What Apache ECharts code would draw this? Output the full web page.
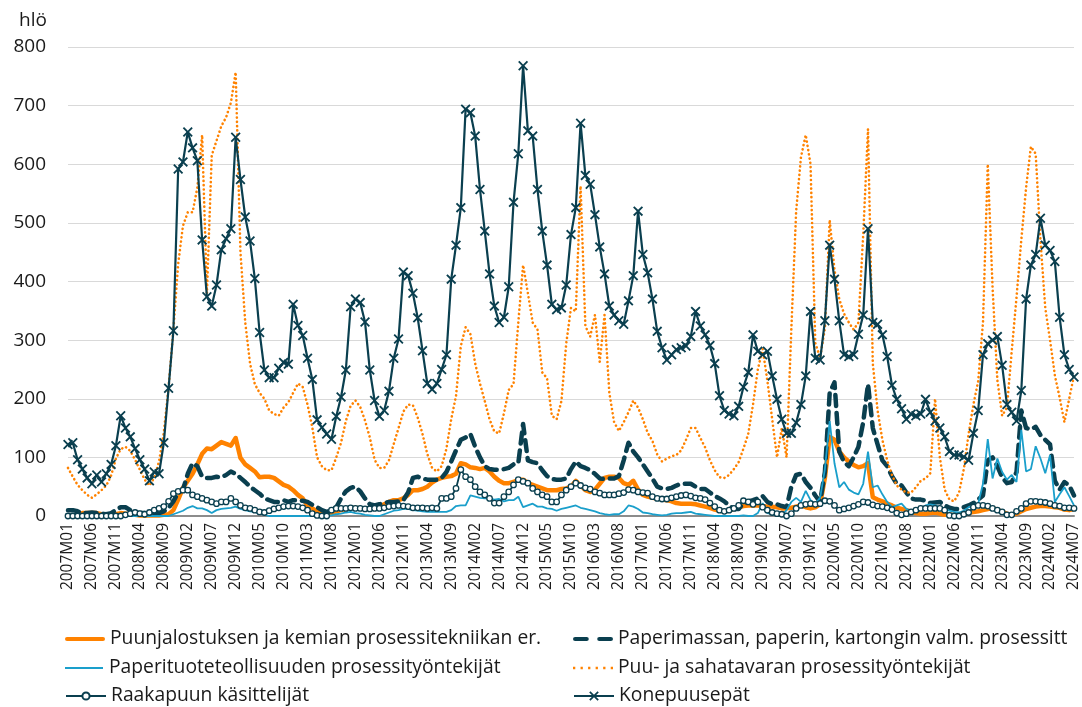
<!DOCTYPE html>
<html><head><meta charset="utf-8">
<script src="https://cdn.jsdelivr.net/npm/echarts@6/dist/echarts.min.js"></script>
<style>html,body{margin:0;padding:0;background:#fff}#c{width:1082px;height:707px}</style>
</head><body><div id="c"></div>
<script>
// Categories: monthly 2007M01 .. 2024M07
const years = [2007,2008,2009,2010,2011,2012,2013,2014,2015,2016,2017,2018,2019,2020,2021,2022,2023,2024];
const categories = [];
years.forEach(function(y){ for (let m=1;m<=12;m++){ if (y===2024 && m>7) break; categories.push(y+'M'+(m<10?'0':'')+m); } });

const yTicks = [0,100,200,300,400,500,600,700,800];

const names = [
  'Puunjalostuksen ja kemian prosessitekniikan er.',
  'Paperimassan, paperin, kartongin valm. prosessitt',
  'Paperituoteteollisuuden prosessityöntekijät',
  'Puu- ja sahatavaran prosessityöntekijät',
  'Raakapuun käsittelijät',
  'Konepuusepät'
];

const puunjalostus = [0,0,3,5,5,5,5,3,2,2,
3,5,4,3,2,1,1,1,1,1,
2,3,10,28,48,60,72,88,106,115,
114,120,126,123,120,133,99,88,82,76,
66,67,67,65,59,53,50,44,36,30,
18,13,8,5,4,5,8,10,12,13,
14,13,13,13,14,16,20,24,27,27,
30,36,44,44,46,50,57,62,65,67,
68,72,90,88,83,82,80,82,76,67,
60,56,56,58,62,62,56,53,50,47,
44,44,44,46,47,50,60,52,44,41,
45,55,65,67,67,65,56,53,60,45,
36,33,31,30,28,27,25,22,21,21,
21,20,18,16,14,11,9,8,9,12,
15,17,18,18,18,17,16,16,15,13,
13,14,16,18,15,13,15,20,65,135,
130,110,100,93,87,83,85,90,32,28,
25,21,18,14,12,10,7,5,4,4,
5,6,4,2,2,2,3,4,5,7,
8,10,12,13,11,7,4,2,4,8,
12,14,16,17,17,16,15,14,11,10,
12];

const paperimassa = [10,10,8,5,5,6,5,4,3,5,
10,15,15,10,6,5,5,4,4,5,
8,14,25,40,45,72,90,85,67,65,
65,67,66,70,76,72,65,58,50,44,
38,30,27,24,24,27,24,27,27,26,
24,19,15,10,7,10,15,30,42,48,
50,42,30,20,18,20,22,24,24,25,
27,40,65,67,64,62,62,62,65,75,
93,112,130,134,140,118,100,85,80,79,
79,80,82,88,90,157,95,92,90,78,
68,63,62,62,64,80,93,85,82,78,
72,64,63,64,64,68,95,125,110,100,
88,76,64,50,47,46,48,52,55,55,
55,50,46,46,40,34,30,25,18,12,
12,22,25,27,30,34,24,20,20,17,
15,50,70,72,58,48,35,24,75,210,
228,110,92,85,100,118,160,225,150,122,
95,85,68,55,52,40,30,28,28,26,
22,23,24,18,14,12,12,15,18,22,
28,35,95,100,85,66,56,58,75,180,
150,148,152,138,130,122,60,45,58,52,
35];

const paperituote = [0,0,0,0,0,0,0,0,0,0,
0,0,0,0,0,0,0,0,0,0,
0,0,3,6,9,14,17,13,13,10,
5,10,12,13,14,16,12,10,8,7,
4,2,0,0,0,0,0,0,0,0,
0,0,2,1,1,1,3,4,6,7,
5,4,2,1,0,0,3,6,9,10,
12,12,10,9,8,7,7,7,7,7,
10,17,18,18,35,33,31,30,30,28,
29,25,27,27,33,15,18,21,16,16,
13,12,9,12,14,16,18,14,12,10,
8,5,3,2,3,3,8,18,16,12,
6,5,3,2,1,2,4,5,5,6,
7,4,3,2,1,0,0,0,0,0,
0,1,0,0,5,22,5,3,2,1,
10,24,31,24,43,27,21,31,80,162,
90,49,58,45,40,37,55,110,49,52,
37,24,15,18,21,12,9,9,12,18,
20,18,15,12,9,7,6,9,15,18,
21,55,131,64,98,75,62,70,58,147,
76,80,119,98,73,104,24,37,49,34,
18];

const sahatavara = [82,67,53,44,36,31,37,44,52,69,
98,114,118,111,96,79,62,52,65,93,
142,220,318,430,495,518,518,560,650,380,
615,640,665,680,705,757,450,330,260,225,
210,200,180,174,171,185,194,210,226,220,
190,151,100,85,78,78,100,125,162,188,
197,186,163,134,96,82,82,95,123,150,
178,190,189,168,140,106,82,76,85,115,
165,205,290,322,310,260,226,196,165,144,
141,175,215,225,330,428,380,330,318,245,
235,171,165,196,294,355,349,563,324,306,
343,263,343,210,160,145,160,177,197,185,
165,142,128,105,93,98,102,104,112,130,
150,150,133,117,95,78,66,65,70,80,
92,115,140,190,250,285,230,165,100,150,
100,320,520,612,650,600,295,270,320,505,
420,370,345,330,318,330,480,660,260,180,
130,95,70,52,45,40,40,49,60,64,
73,200,100,45,28,25,40,80,140,190,
230,330,600,390,232,171,185,281,373,471,
560,630,618,470,355,300,240,202,160,200,
240];

const raakapuu = [0,0,0,0,0,0,0,0,0,0,
0,0,2,4,6,4,3,6,10,13,
16,25,38,42,44,44,36,33,30,27,
24,21,24,24,30,24,18,14,13,10,
7,6,9,12,14,16,17,17,16,14,
10,4,1,0,0,10,13,13,13,14,
13,13,12,12,13,13,14,16,17,18,
17,16,14,14,14,13,14,13,30,30,
33,47,79,67,62,50,41,36,30,22,
22,33,41,53,62,59,56,47,41,36,
33,24,24,36,44,50,56,52,48,46,
41,39,36,36,36,38,40,45,44,41,
40,39,33,30,29,29,31,33,35,36,
34,31,30,28,22,16,10,8,10,13,
18,26,24,20,24,15,10,6,4,3,
0,4,13,18,20,21,20,21,26,25,
18,10,12,14,17,20,24,23,19,17,
16,14,11,5,2,4,7,10,13,13,
13,13,13,10,1,0,0,3,6,15,
18,18,17,13,10,7,2,2,8,13,
21,25,25,24,23,21,18,17,14,14,
13];

const konepuusepat = [122,125,96,80,65,55,70,58,72,88,
120,171,150,135,115,96,80,60,75,72,
125,218,316,592,604,655,628,606,471,374,
358,394,454,473,490,646,574,510,469,405,
313,249,236,236,252,262,259,361,325,308,
269,233,164,151,140,131,170,203,249,357,
370,364,331,249,197,170,180,213,269,302,
416,410,380,338,282,226,216,226,250,275,
404,462,526,694,688,648,557,486,413,358,
330,339,391,535,618,768,657,648,557,486,
428,361,352,355,394,480,526,670,581,566,
514,459,413,358,343,333,327,367,410,520,
446,415,370,315,287,266,275,284,287,290,
306,349,324,309,291,260,205,180,174,171,
187,220,245,309,281,275,281,239,199,165,
141,141,159,190,239,349,269,266,333,462,
404,333,275,272,275,310,343,490,330,327,
309,272,223,199,183,165,174,171,174,199,
177,162,150,135,110,104,104,101,95,141,
180,275,294,300,306,257,190,177,162,214,
370,428,446,508,462,453,434,339,275,250,
237];

const ORANGE = '#FF8200', NAVY = '#0A3F4F', LBLUE = '#1A9FCB';
const FONT = '"Open Sans", "Noto Sans", sans-serif';
const XSYM = 'path://M0,1.3 L1.3,0 L5,3.7 L8.7,0 L10,1.3 L6.3,5 L10,8.7 L8.7,10 L5,6.3 L1.3,10 L0,8.7 L3.7,5 Z';

// legend icon shapes
const ICON_THICK = 'path://M2,0 H38 A2,2 0 0 1 38,4 H2 A2,2 0 0 1 2,0 Z';
const ICON_DASH = 'path://M2,0 H13 A2,2 0 0 1 13,4 H2 A2,2 0 0 1 2,0 Z M25,0 H36 A2,2 0 0 1 36,4 H25 A2,2 0 0 1 25,0 Z';
const ICON_THIN = 'path://M0,0 H38 V2 H0 Z';
const ICON_DOT = 'path://M0,0H2V2H0Z M6.6,0H8.6V2H6.6Z M13.2,0H15.2V2H13.2Z M19.8,0H21.8V2H19.8Z M26.4,0H28.4V2H26.4Z M33,0H35V2H33Z';

const chart = echarts.init(document.getElementById('c'), null, {renderer:'canvas'});
const LEG_TEXT = {fontSize:19.3, color:'#1a1a1a', fontFamily:FONT, lineHeight:22};
function leg(name, left, top, w, h, icon){
  const o = {data:[icon ? {name:name, icon:icon} : {name:name}], left:left, top:top,
    itemWidth:w, itemHeight:h, itemGap:0, padding:0, textStyle:LEG_TEXT, selectedMode:false};
  return o;
}
chart.setOption({
  animation:false,
  textStyle:{fontFamily:FONT},
  title:{text:'hlö', left:14, top:6, textStyle:{fontSize:19, fontWeight:'normal', color:'#1a1a1a', fontFamily:FONT}},
  grid:{left:68, right:4, top:47, bottom:191},
  legend:[
    leg(names[0], 65, 628, 40, 5, ICON_THICK),
    leg(names[2], 65, 657, 40, 2, ICON_THIN),
    leg(names[4], 65, 685, 40, 9, null),
    leg(names[1], 573, 628, 40, 5, ICON_DASH),
    leg(names[3], 573, 657, 40, 2.4, ICON_DOT),
    leg(names[5], 573, 685, 40, 12, null)
  ],
  xAxis:{type:'category', data:categories, boundaryGap:false,
    axisLine:{lineStyle:{color:'#8c8c8c', width:2}}, axisTick:{show:false},
    axisLabel:{interval:4, rotate:90, fontSize:15.5, color:'#1a1a1a', margin:7, fontFamily:FONT}},
  yAxis:{type:'value', min:yTicks[0], max:yTicks[yTicks.length-1], interval:100,
    axisLine:{show:false}, axisTick:{show:false},
    splitLine:{lineStyle:{color:'#d9d9d9', width:1}},
    axisLabel:{fontSize:19, color:'#1a1a1a', margin:22, fontFamily:FONT}},
  series:[
    {name:names[0], type:'line', data:puunjalostus, symbol:'none', color:ORANGE,
      lineStyle:{color:ORANGE, width:4.5, join:'round'}},
    {name:names[1], type:'line', data:paperimassa, symbol:'none', color:NAVY,
      lineStyle:{color:NAVY, width:4.5, type:[11,7], cap:'round', join:'round'}},
    {name:names[2], type:'line', data:paperituote, symbol:'none', color:LBLUE,
      lineStyle:{color:LBLUE, width:1.8}},
    {name:names[3], type:'line', data:sahatavara, symbol:'none', color:ORANGE,
      lineStyle:{color:ORANGE, width:2.6, type:[0.1,4.2], cap:'round'}},
    {name:names[4], type:'line', data:raakapuu, symbol:'circle', symbolSize:5.5, showAllSymbol:true, color:NAVY,
      itemStyle:{color:'#ffffff', borderColor:NAVY, borderWidth:1.3},
      lineStyle:{color:NAVY, width:1.8}},
    {name:names[5], type:'line', data:konepuusepat, symbol:XSYM, symbolSize:10, showAllSymbol:true, color:NAVY,
      itemStyle:{color:NAVY}, lineStyle:{color:NAVY, width:2.2}}
  ]
});
</script></body></html>
